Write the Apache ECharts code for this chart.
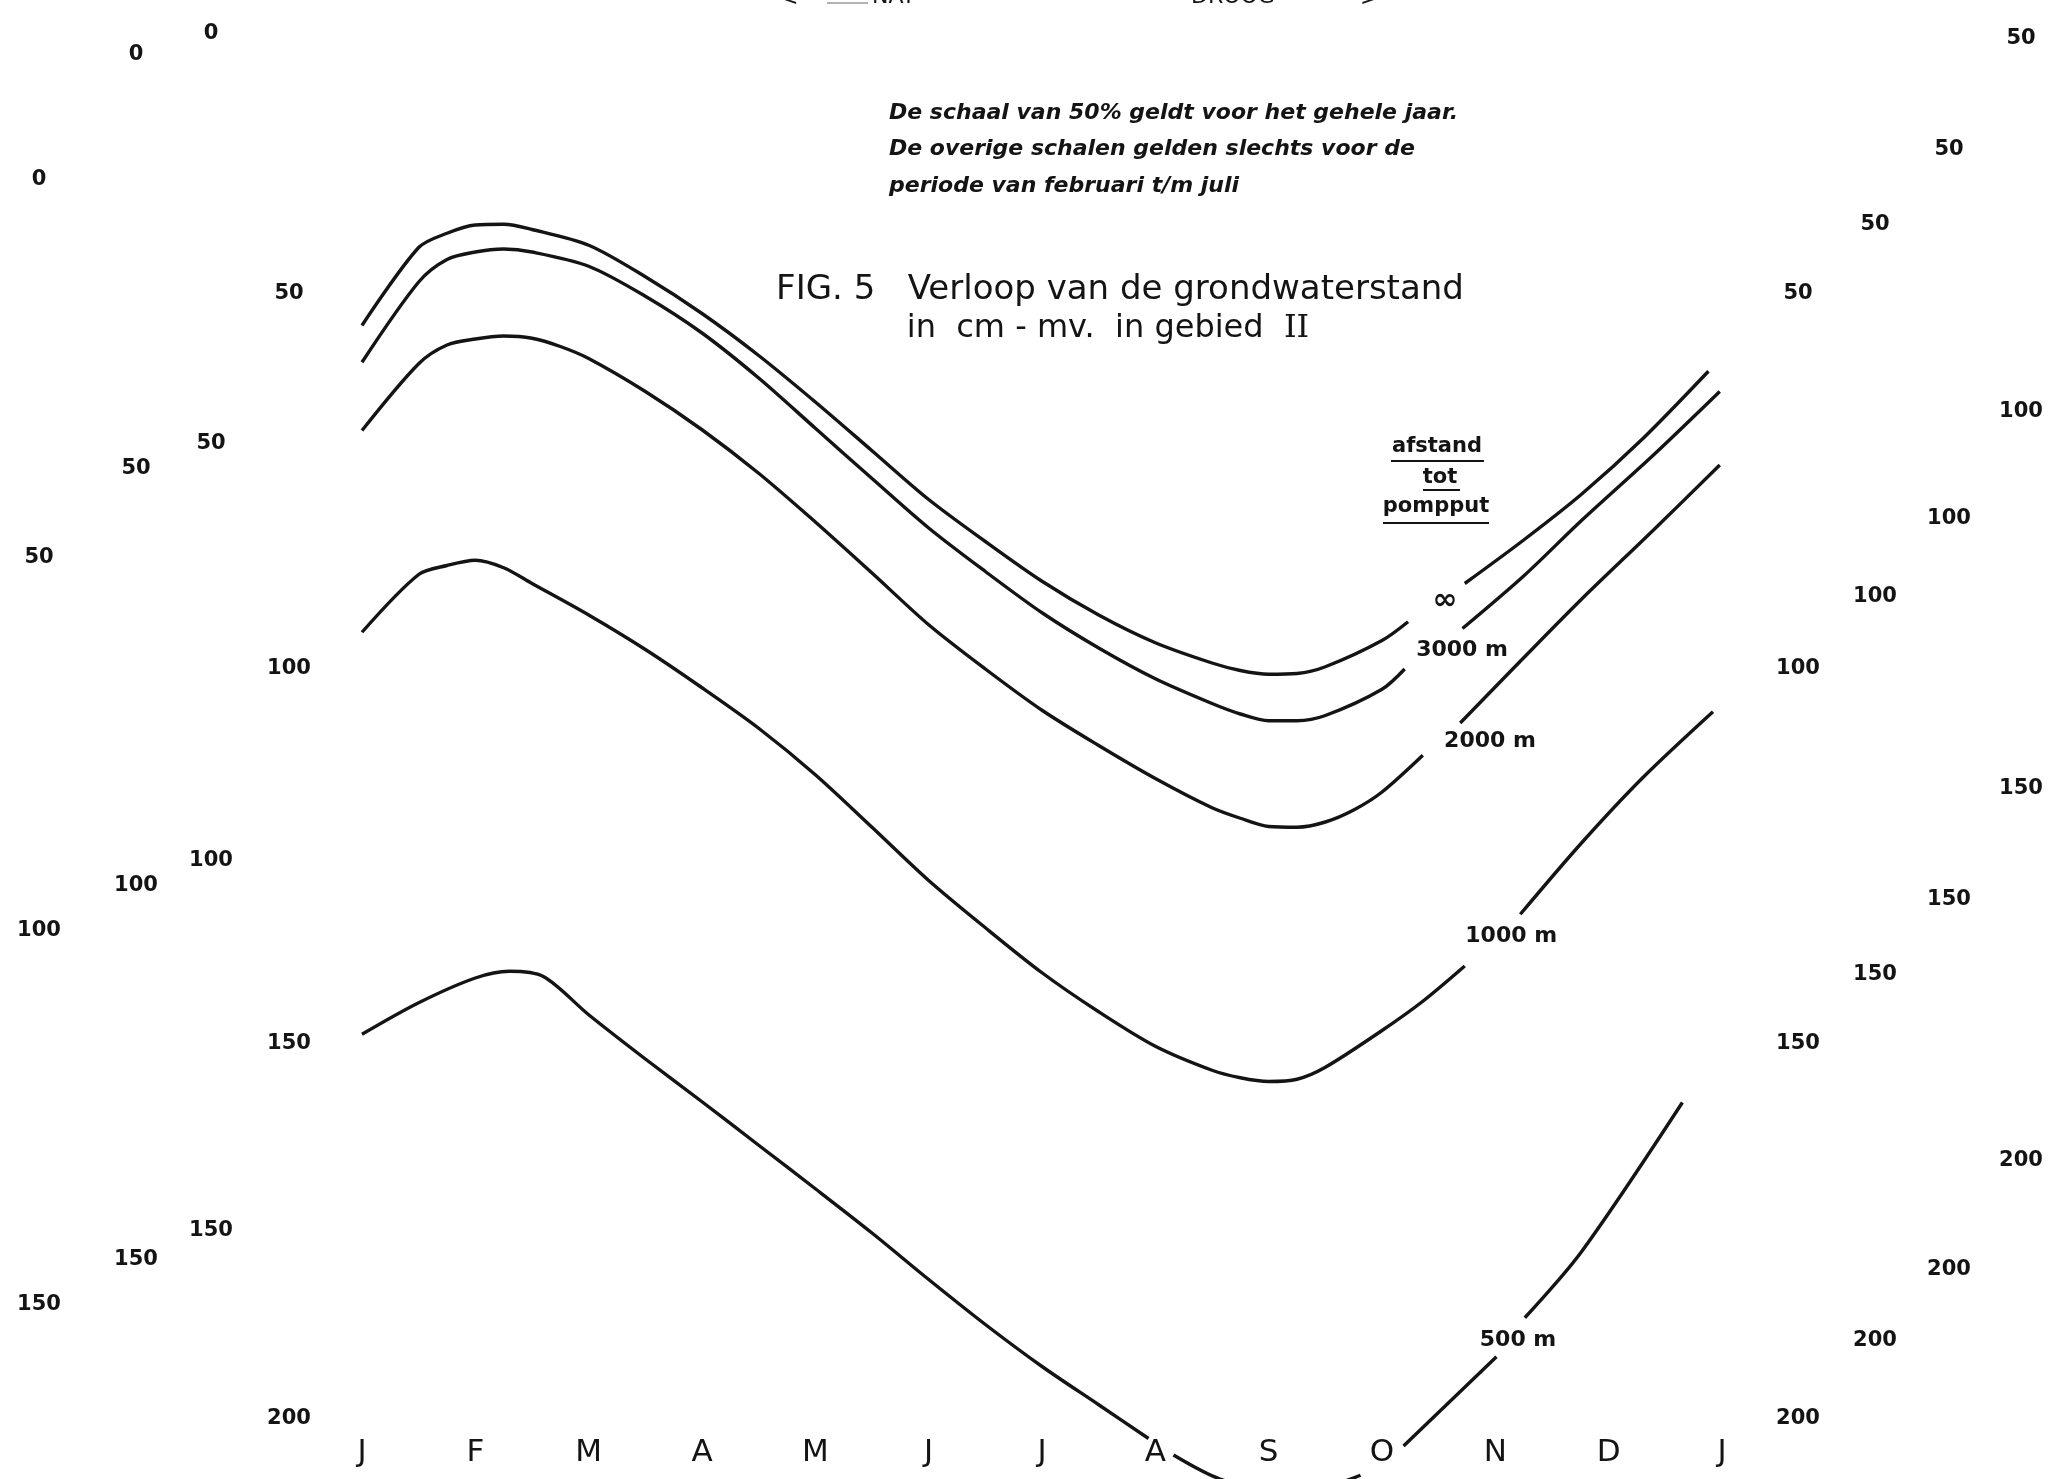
<!DOCTYPE html>
<html>
<head>
<meta charset="utf-8">
<title>FIG. 5 Verloop van de grondwaterstand</title>
<script src="https://cdn.jsdelivr.net/npm/echarts@6/dist/echarts.min.js"></script>
<style>
  html, body { margin: 0; padding: 0; background: #ffffff; }
  #chart { width: 2066px; height: 1479px; }
</style>
</head>
<body>
<div id="chart"></div>
<script>
// Month letters along the bottom (J of january ... J of the next january)
const monthLetters = ['J', 'F', 'M', 'A', 'M', 'J', 'J', 'A', 'S', 'O', 'N', 'D', 'J'];
const monthTicks = [0, 1, 2, 3, 4, 5, 6, 7, 8, 9, 10, 11, 12];

// Depth scales (cm - mv.). Each scale: its printed values and the depth
// on the 50% scale that each printed value lines up with.
const leftScaleA = [0, 50, 100, 150];
const leftScaleAAt = [34.7, 85.1, 134.9, 184.8];
const leftScaleB = [0, 50, 100, 150];
const leftScaleBAt = [18.1, 73.3, 128.9, 178.7];
const leftScaleC = [0, 50, 100, 150];
const leftScaleCAt = [15.3, 69.9, 125.6, 174.9];
const scale50 = [50, 100, 150, 200];
const scale50At = [50, 100, 150, 200];
const rightScaleB = [50, 100, 150, 200];
const rightScaleBAt = [40.8, 90.3, 140.7, 189.6];
const rightScaleC = [50, 100, 150, 200];
const rightScaleCAt = [30.7, 79.9, 130.7, 180.1];
const rightScaleD = [50, 100, 150, 200];
const rightScaleDAt = [15.9, 65.7, 116.0, 165.6];

// Groundwater curves: time in months (0 = J) and depth in cm - mv.
// null marks where the drawn line is broken for its label.
const monthsInf = [0, 0.5, 0.75, 1.0, 1.25, 1.5, 2.0, 2.5, 3.0, 3.5, 4.0, 4.5, 5.0, 5.5, 6.0, 6.5, 7.0, 7.5, 7.75, 8.0, 8.25, 8.5, 9.0, 9.23, 9.48, 9.73, 10.25, 10.76, 11.3, 11.88];
const depthInf  = [54.2, 43.8, 41.9, 40.8, 40.7, 41.4, 43.5, 47.7, 52.6, 58.2, 64.4, 70.9, 77.4, 83.0, 88.3, 92.8, 96.5, 99.2, 100.2, 100.7, 100.6, 99.7, 96.2, 93.7, null, 88.6, 82.8, 76.7, 69.3, 60.3];

const months3000 = [0, 0.5, 0.75, 1.0, 1.25, 1.5, 2.0, 2.5, 3.0, 3.5, 4.0, 4.5, 5.0, 5.5, 6.0, 6.5, 7.0, 7.5, 7.75, 8.0, 8.25, 8.5, 9.0, 9.2, 9.45, 9.71, 10.25, 10.76, 11.4, 11.98];
const depth3000  = [59.1, 48.4, 45.4, 44.4, 44.0, 44.4, 46.3, 50.3, 55.2, 61.2, 67.9, 74.6, 81.2, 87.0, 92.5, 97.2, 101.3, 104.6, 106.0, 106.9, 106.9, 106.2, 102.7, 100.0, null, 94.6, 87.6, 80.2, 71.4, 63.0];

const months2000 = [0, 0.5, 0.75, 1.0, 1.25, 1.5, 1.75, 2.0, 2.5, 3.0, 3.5, 4.0, 4.5, 5.0, 5.5, 6.0, 6.5, 7.0, 7.5, 7.75, 8.0, 8.25, 8.5, 8.75, 9.0, 9.36, 9.52, 9.69, 10.25, 10.76, 11.4, 11.98];
const depth2000  = [68.2, 59.3, 56.8, 56.0, 55.6, 55.9, 57.0, 58.6, 63.0, 68.1, 73.9, 80.4, 87.2, 94.1, 100.0, 105.5, 110.2, 114.6, 118.5, 119.9, 121.0, 121.1, 120.4, 118.8, 116.4, 111.5, null, 107.2, 98.5, 90.7, 81.4, 72.8];

const months1000 = [0, 0.5, 0.75, 1.0, 1.25, 1.5, 2.0, 2.5, 3.0, 3.5, 4.0, 4.5, 5.0, 5.5, 6.0, 6.5, 7.0, 7.5, 7.75, 8.0, 8.25, 8.5, 9.0, 9.36, 9.73, 9.98, 10.22, 10.76, 11.3, 11.92];
const depth1000  = [95.1, 87.4, 86.2, 85.5, 86.5, 88.6, 92.8, 97.4, 102.5, 107.9, 114.1, 121.1, 128.2, 134.5, 140.5, 145.7, 150.3, 153.5, 154.5, 155.0, 154.7, 153.1, 148.2, 144.3, 139.6, null, 132.7, 123.2, 114.5, 105.7];

const months500 = [0, 0.5, 1.0, 1.3, 1.6, 2.0, 2.5, 3.0, 3.5, 4.0, 4.5, 5.0, 5.5, 6.0, 6.5, 6.94, 7.05, 7.16, 7.57, 8.17, 8.81, 9.0, 9.19, 10.01, 10.13, 10.26, 10.76, 11.65];
const depth500  = [148.7, 144.5, 141.2, 140.3, 141.0, 146.1, 152.0, 157.7, 163.5, 169.3, 175.2, 181.4, 187.4, 193.0, 198.1, 202.6, null, 204.8, 208.0, 210.2, 207.5, null, 203.6, 191.7, null, 186.5, 177.7, 157.8];

const INK = '#141414';
const SANS = "'DejaVu Sans', 'Liberation Sans', sans-serif";

// depth range covered by the drawing area, top to bottom
const depthTop = 10.8;
const depthBottom = 208.0;

function pairs(months, depths) {
  return months.map((m, i) => [m, depths[i] === null ? '-' : depths[i]]);
}

function depthScale(values, at, labelX) {
  return {
    type: 'value',
    position: 'left',
    inverse: true,
    min: depthTop,
    max: depthBottom,
    axisLine: { show: false },
    axisTick: { show: false },
    splitLine: { show: false },
    axisLabel: {
      inside: true,
      margin: labelX,
      align: 'center',
      verticalAlign: 'middle',
      customValues: at,
      formatter: function (v) {
        for (let i = 0; i < at.length; i++) {
          if (Math.abs(at[i] - v) < 1e-6) return String(values[i]);
        }
        return '';
      },
      fontFamily: SANS,
      fontSize: 21,
      fontWeight: 'bold',
      color: INK
    }
  };
}

function curve(name, months, depths, labelText, labelCoord, labelSize) {
  return {
    name: name,
    type: 'line',
    xAxisIndex: 0,
    yAxisIndex: 3,
    data: pairs(months, depths),
    smooth: 0.3,
    connectNulls: false,
    showSymbol: false,
    symbol: 'none',
    silent: true,
    lineStyle: { color: INK, width: 3.4 },
    markPoint: {
      silent: true,
      symbol: 'circle',
      symbolSize: 0.1,
      itemStyle: { color: 'rgba(255,255,255,0)' },
      label: {
        show: true,
        position: 'inside',
        formatter: labelText,
        fontFamily: SANS,
        fontSize: labelSize,
        fontWeight: 'bold',
        color: INK
      },
      data: [{ coord: labelCoord }]
    }
  };
}

const chart = echarts.init(document.getElementById('chart'), null, { renderer: 'canvas' });

const noteFont = "italic bold 22px 'DejaVu Sans'";
const keyFont = "bold 21px 'DejaVu Sans'";

chart.setOption({
  backgroundColor: '#ffffff',
  animation: false,
  grid: { left: 0, right: 0, top: 0, bottom: 0, containLabel: false, outerBoundsMode: 'none' },
  xAxis: {
    type: 'value',
    position: 'bottom',
    min: -3.194,
    max: 15.035,
    z: 3,
    axisLine: { show: false },
    axisTick: { show: false },
    splitLine: { show: false },
    axisLabel: {
      inside: true,
      margin: 26,
      verticalAlign: 'middle',
      customValues: monthTicks,
      formatter: function (v) { return monthLetters[Math.round(v)]; },
      fontFamily: SANS,
      fontSize: 31,
      color: INK
    }
  },
  yAxis: [
    depthScale(leftScaleA, leftScaleAAt, 39),
    depthScale(leftScaleB, leftScaleBAt, 136),
    depthScale(leftScaleC, leftScaleCAt, 211),
    depthScale(scale50, scale50At, 289),
    depthScale(scale50, scale50At, 1798),
    depthScale(rightScaleB, rightScaleBAt, 1875),
    depthScale(rightScaleC, rightScaleCAt, 1949),
    depthScale(rightScaleD, rightScaleDAt, 2021)
  ],
  series: [
    curve('∞', monthsInf, depthInf, '∞', [9.556, 90.9], 30),
    curve('3000 m', months3000, depth3000, '3000 m', [9.706, 97.5], 22),
    curve('2000 m', months2000, depth2000, '2000 m', [9.953, 109.7], 22),
    curve('1000 m', months1000, depth1000, '1000 m', [10.14, 135.7], 22),
    curve('500 m', months500, depth500, '500 m', [10.20, 189.5], 22)
  ],
  graphic: [
    // NAT / DROOG heading, running off the top edge
    { type: 'text', left: 780, top: -12, style: { text: '<', font: "22px 'DejaVu Sans'", fill: INK } },
    { type: 'line', shape: { x1: 827, y1: 3, x2: 868, y2: 3 }, style: { stroke: '#9a9a9a', lineWidth: 1.5 } },
    { type: 'text', left: 872, top: -14, style: { text: 'NAT', font: "22px 'DejaVu Sans'", fill: INK } },
    { type: 'text', left: 1191, top: -14, style: { text: 'DROOG', font: "22px 'DejaVu Sans'", fill: INK } },
    { type: 'text', left: 1360, top: -12, style: { text: '>', font: "22px 'DejaVu Sans'", fill: INK } },

    // note on the scales
    { type: 'text', x: 889, y: 113, style: { text: 'De schaal van 50% geldt voor het gehele jaar.', font: noteFont, fill: INK, textVerticalAlign: 'middle' } },
    { type: 'text', x: 889, y: 149, style: { text: 'De overige schalen gelden slechts voor de', font: noteFont, fill: INK, textVerticalAlign: 'middle' } },
    { type: 'text', x: 889, y: 186, style: { text: 'periode van februari t/m juli', font: noteFont, fill: INK, textVerticalAlign: 'middle' } },

    // figure title
    { type: 'text', x: 1120, y: 290, style: { text: 'FIG. 5   Verloop van de grondwaterstand', font: "34px 'DejaVu Sans'", fill: INK, textAlign: 'center', textVerticalAlign: 'middle' } },
    {
      type: 'text', x: 1108, y: 329,
      style: {
        text: '{a|in  cm - mv.  in gebied  }{b|II}',
        textAlign: 'center', textVerticalAlign: 'middle',
        rich: {
          a: { fontFamily: 'DejaVu Sans', fontSize: 32, fill: INK, color: INK },
          b: { fontFamily: 'DejaVu Serif', fontSize: 32, fill: INK, color: INK }
        }
      }
    },

    // key heading for the curve labels
    { type: 'text', x: 1437, y: 447, style: { text: 'afstand', font: keyFont, fill: INK, textAlign: 'center', textVerticalAlign: 'middle' } },
    { type: 'line', shape: { x1: 1391, y1: 461, x2: 1484, y2: 461 }, style: { stroke: INK, lineWidth: 2 } },
    { type: 'text', x: 1440, y: 478, style: { text: 'tot', font: keyFont, fill: INK, textAlign: 'center', textVerticalAlign: 'middle' } },
    { type: 'line', shape: { x1: 1423, y1: 490, x2: 1460, y2: 490 }, style: { stroke: INK, lineWidth: 2 } },
    { type: 'text', x: 1436, y: 507, style: { text: 'pompput', font: keyFont, fill: INK, textAlign: 'center', textVerticalAlign: 'middle' } },
    { type: 'line', shape: { x1: 1383, y1: 523, x2: 1489, y2: 523 }, style: { stroke: INK, lineWidth: 2 } }
  ]
});
</script>
</body>
</html>
